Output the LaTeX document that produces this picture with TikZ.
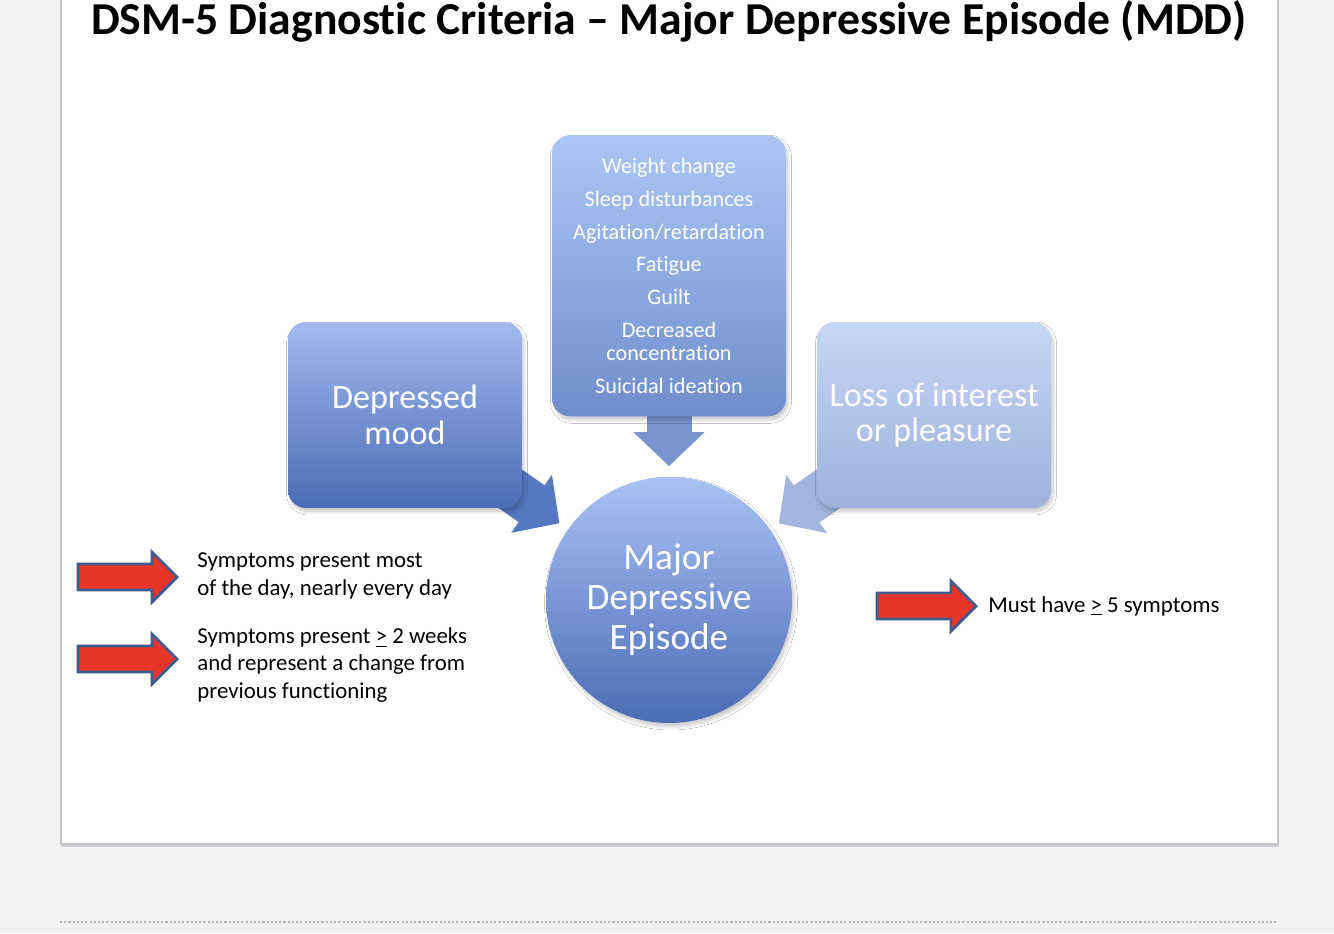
\documentclass[tikz,border=0pt]{standalone}
\usepackage{fontspec}
\setmainfont{Carlito}[Ligatures=NoCommon]
\usetikzlibrary{arrows.meta,calc,positioning,shapes,backgrounds,shadows.blur}

\definecolor{pagegray}{HTML}{F2F2F2}
\definecolor{slideframe}{HTML}{C4C4C4}
\definecolor{slideedge}{HTML}{C9CDD5}
\definecolor{dotgray}{HTML}{B4B4B4}
\definecolor{circtop}{HTML}{A9C2F5}
\definecolor{circbot}{HTML}{4A6CB6}
\definecolor{moodtop}{HTML}{A3B9F0}
\definecolor{moodbot}{HTML}{4A6CB6}
\definecolor{listtop}{HTML}{ACC6F7}
\definecolor{listbot}{HTML}{6E8ECB}
\definecolor{losstop}{HTML}{C6D6F7}
\definecolor{lossbot}{HTML}{9DB1DA}
\definecolor{linkdown}{HTML}{7795CF}
\definecolor{linkleft}{HTML}{5578C0}
\definecolor{linkright}{HTML}{A2B5DE}
\definecolor{arrowred}{HTML}{E8352A}
\definecolor{arrowedge}{HTML}{405A8C}

\begin{document}
\begin{tikzpicture}[x=0.02cm,y=-0.02cm,
  softshadow/.style={blur shadow={shadow xshift=0.04cm,shadow yshift=-0.07cm,shadow blur radius=0.07cm,shadow blur steps=8,shadow opacity=22}},
  box/.style={rounded corners=0.36cm,minimum width=4.68cm,text=white,align=center,softshadow},
  bigtext/.style={font=\fontsize{19.4}{20.4}\selectfont},
  link/.style={line width=0.9cm,-{Triangle[width=1.38cm,length=0.68cm]},shorten >=0.21cm},
  note/.style={anchor=west,align=left,inner sep=0pt,font=\fontsize{13}{15.6}\selectfont},
  redarrow/.pic={\draw[fill=arrowred,draw=arrowedge,line width=1.6pt,line join=miter]
    (0,-13) -- (74,-13) -- (74,-25) -- (99,0) -- (74,25) -- (74,13) -- (0,13) -- cycle;}]
\useasboundingbox (0,0) rectangle (1334,933);

% title
\node[font=\fontsize{26}{30}\selectfont\bfseries,anchor=base,inner sep=0pt] (title) at (669,34)
  {DSM-5 Diagnostic Criteria – Major Depressive Episode (MDD)};

% centre and the three criteria
\node[circle,minimum size=4.92cm,top color=circtop,bottom color=circbot,text=white,align=center,
  font=\fontsize{21.2}{22.7}\selectfont,softshadow] (episode) at (669,600) {Major\\Depressive\\Episode};
\node[box,minimum height=5.62cm,top color=listtop,bottom color=listbot,above=1.2cm of episode,
  font=\fontsize{12.6}{13.1}\selectfont] (symptoms)
  {Weight change\\[5.6pt] Sleep disturbances\\[5.6pt] Agitation/retardation\\[5.6pt] Fatigue\\[5.6pt]
   Guilt\\[5.6pt] Decreased\\concentration\\[5.6pt] Suicidal ideation};
\node[box,bigtext,minimum height=3.72cm,top color=moodtop,bottom color=moodbot] (mood) at (405,415)
  {Depressed\\mood};
\node[box,bigtext,minimum height=3.72cm,top color=losstop,bottom color=lossbot] (interest) at (934,415)
  {Loss of interest\\or pleasure};

% notes
\pic at (78,577) {redarrow};
\node[note] (daily) at (197,576) {Symptoms present most\\of the day, nearly every day};
\pic at (78,659) {redarrow};
\node[note] (weeks) at (197,665) {Symptoms present \underline{>} 2 weeks\\and represent a change from\\previous functioning};
\pic at (877,606) {redarrow};
\node[note] (count) at (988,606) {Must have \underline{>} 5 symptoms};

\begin{pgfonlayer}{background}
\fill[pagegray] (0,0) rectangle (1334,933);
\fill[slideedge] (61,-5) rectangle (1279,847);
\filldraw[fill=white,draw=slideframe,line width=0.6pt] (61,-5) rectangle (1278,844);
\draw[dotgray,line width=1.2pt,dash pattern=on 1.2pt off 1.2pt] (60,922) -- (1276,922);
\draw[link,linkdown] (symptoms.center) -- (episode);
\draw[link,linkleft] (mood.center) -- (episode);
\draw[link,linkright] (interest.center) -- (episode);
\end{pgfonlayer}
\end{tikzpicture}
\end{document}
